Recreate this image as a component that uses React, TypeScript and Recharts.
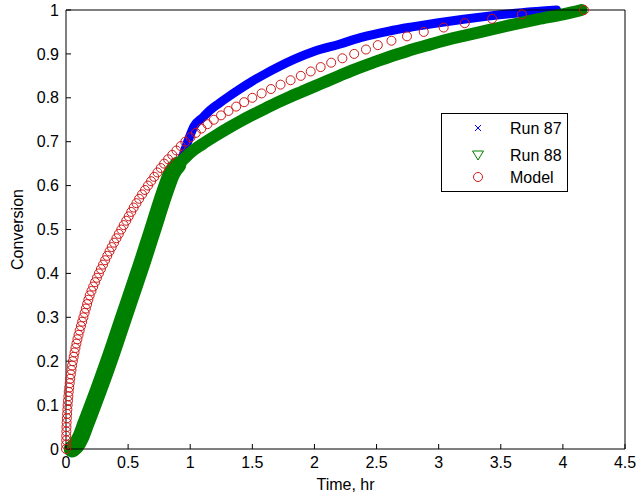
import React from 'react';
import { ComposedChart, Line, XAxis, YAxis, Legend } from 'recharts';

// Run 87 (blue x markers)
const run87Time = [0.88, 0.93, 0.98, 1.03, 1.1, 1.16, 1.23, 1.3, 1.4, 1.5, 1.6, 1.7, 1.84, 2.0, 2.2, 2.37, 2.6, 2.8, 3.0, 3.2, 3.4, 3.67, 3.95];
const run87Conv = [0.64, 0.66, 0.70, 0.735, 0.755, 0.772, 0.787, 0.801, 0.82, 0.838, 0.854, 0.869, 0.888, 0.906, 0.922, 0.937, 0.952, 0.962, 0.971, 0.979, 0.986, 0.994, 1.0];

// Run 88 (green triangles)
const run88Time = [0.05, 0.08, 0.12, 0.16, 0.21, 0.26, 0.31, 0.36, 0.41, 0.46, 0.51, 0.56, 0.61, 0.66, 0.71, 0.76, 0.81, 0.85, 0.9, 0.95, 1.0, 1.1, 1.2, 1.3, 1.4, 1.5, 1.6, 1.7, 1.8, 1.9, 2.0, 2.1, 2.2, 2.3, 2.4, 2.5, 2.6, 2.7, 2.8, 2.9, 3.0, 3.2, 3.4, 3.6, 3.8, 4.0, 4.15];
const run88Conv = [0.0, 0.008, 0.028, 0.058, 0.095, 0.133, 0.172, 0.212, 0.254, 0.296, 0.338, 0.38, 0.422, 0.466, 0.51, 0.555, 0.597, 0.627, 0.647, 0.661, 0.675, 0.695, 0.713, 0.73, 0.746, 0.761, 0.775, 0.789, 0.802, 0.814, 0.826, 0.838, 0.85, 0.862, 0.873, 0.883, 0.893, 0.902, 0.911, 0.919, 0.927, 0.941, 0.954, 0.967, 0.979, 0.99, 1.0];

// Model (red circles)
const modelTime = [
  0.000, 0.001, 0.002, 0.002, 0.003, 0.004, 0.005, 0.007, 0.009, 0.011,
  0.013, 0.016, 0.019, 0.022, 0.026, 0.030, 0.034, 0.039, 0.044, 0.049,
  0.055, 0.062, 0.069, 0.076, 0.084, 0.092, 0.101, 0.110, 0.120, 0.130,
  0.140, 0.150, 0.160, 0.170, 0.180, 0.191, 0.205, 0.219, 0.234, 0.249,
  0.265, 0.281, 0.298, 0.315, 0.332, 0.350, 0.368, 0.387, 0.406, 0.425,
  0.445, 0.465, 0.485, 0.505, 0.525, 0.545, 0.567, 0.589, 0.612, 0.636,
  0.660, 0.685, 0.710, 0.736, 0.763, 0.790, 0.822, 0.855, 0.889, 0.924,
  0.960, 1.002, 1.045, 1.090, 1.139, 1.190, 1.248, 1.308, 1.370, 1.434,
  1.500, 1.575, 1.650, 1.727, 1.808, 1.890, 1.970, 2.050, 2.135, 2.225,
  2.320, 2.415, 2.510, 2.620, 2.745, 2.880, 3.040, 3.210, 3.430, 3.670,
  4.170,
];
const modelConv = [
  0.00, 0.01, 0.02, 0.03, 0.04, 0.05, 0.06, 0.07, 0.08, 0.09,
  0.10, 0.11, 0.12, 0.13, 0.14, 0.15, 0.16, 0.17, 0.18, 0.19,
  0.20, 0.21, 0.22, 0.23, 0.24, 0.25, 0.26, 0.27, 0.28, 0.29,
  0.30, 0.31, 0.32, 0.33, 0.34, 0.35, 0.36, 0.37, 0.38, 0.39,
  0.40, 0.41, 0.42, 0.43, 0.44, 0.45, 0.46, 0.47, 0.48, 0.49,
  0.50, 0.51, 0.52, 0.53, 0.54, 0.55, 0.56, 0.57, 0.58, 0.59,
  0.60, 0.61, 0.62, 0.63, 0.64, 0.65, 0.66, 0.67, 0.68, 0.69,
  0.70, 0.71, 0.72, 0.73, 0.74, 0.75, 0.76, 0.77, 0.78, 0.79,
  0.80, 0.81, 0.82, 0.83, 0.84, 0.85, 0.86, 0.87, 0.88, 0.89,
  0.90, 0.91, 0.92, 0.93, 0.94, 0.95, 0.96, 0.97, 0.98, 0.99,
  1.00,
];

const xTicks = [0, 0.5, 1, 1.5, 2, 2.5, 3, 3.5, 4, 4.5];
const yTicks = [0, 0.1, 0.2, 0.3, 0.4, 0.5, 0.6, 0.7, 0.8, 0.9, 1];
const seriesNames = ['Run 87', 'Run 88', 'Model'];
const xLabel = 'Time, hr';
const yLabel = 'Conversion';

const BLUE = '#0000ff';
const GREEN = '#008000';
const RED = '#cc1a1a';
const FONT = '"Liberation Sans", Arial, Helvetica, sans-serif';

const zip = (ts: number[], cs: number[]) => ts.map((t, i) => ({ t, c: cs[i] }));
const run87 = zip(run87Time, run87Conv);
const run88 = zip(run88Time, run88Conv);
const run88Steep = run88.filter((p) => p.t <= 0.9);
const run88Flat = run88.filter((p) => p.t >= 0.9);
const model = zip(modelTime, modelConv);

const tickStyle = { fill: '#000', fontSize: 16, fontFamily: FONT };

const renderLegend = () => {
  const rows = [14, 41, 63];
  const mx = 36;
  return (
    <div
      style={{
        width: 127,
        height: 79,
        boxSizing: 'border-box',
        border: '1px solid #000',
        background: '#fff',
      }}
    >
      <svg width={125} height={77} style={{ display: 'block' }}>
        <g stroke={BLUE} strokeWidth={1}>
          <line x1={mx - 3} y1={rows[0] - 3} x2={mx + 3} y2={rows[0] + 3} />
          <line x1={mx - 3} y1={rows[0] + 3} x2={mx + 3} y2={rows[0] - 3} />
        </g>
        <polygon
          points={`${mx - 5.5},${rows[1] - 4} ${mx + 5.5},${rows[1] - 4} ${mx},${rows[1] + 5}`}
          fill="none"
          stroke={GREEN}
          strokeWidth={1}
        />
        <circle cx={mx} cy={rows[2]} r={4.5} fill="none" stroke={RED} strokeWidth={1} />
        {seriesNames.map((n, i) => (
          <text
            key={n}
            x={68}
            y={rows[i]}
            dominantBaseline="central"
            fontSize={16}
            fontFamily={FONT}
            fill="#000"
          >
            {n}
          </text>
        ))}
      </svg>
    </div>
  );
};

export default function App() {
  return (
    <div style={{ position: 'absolute', left: 0, top: 0, width: 637, height: 494, background: '#fff' }}>
      <ComposedChart width={637} height={494} margin={{ top: 9, right: 11, bottom: 0, left: 0 }}>
        <XAxis
          xAxisId="b"
          dataKey="t"
          type="number"
          domain={[0, 4.5]}
          ticks={xTicks}
          interval={0}
          height={45}
          tickSize={-5}
          tickMargin={13}
          tick={tickStyle}
          tickLine={{ stroke: '#000' }}
          axisLine={{ stroke: '#000' }}
          tickFormatter={(v: number) => String(v)}
          label={{ value: xLabel, position: 'center', dy: 13, fill: '#000', fontSize: 16, fontFamily: FONT }}
        />
        <XAxis
          xAxisId="t"
          dataKey="t"
          type="number"
          orientation="top"
          domain={[0, 4.5]}
          ticks={xTicks}
          interval={0}
          height={1}
          tickSize={-5}
          tick={false}
          tickLine={{ stroke: '#000' }}
          axisLine={{ stroke: '#000' }}
        />
        <YAxis
          yAxisId="l"
          type="number"
          domain={[0, 1]}
          ticks={yTicks}
          interval={0}
          width={66}
          tickSize={-5}
          tickMargin={12}
          tick={tickStyle}
          tickLine={{ stroke: '#000' }}
          axisLine={{ stroke: '#000' }}
          tickFormatter={(v: number) => String(v)}
          label={{ value: yLabel, angle: -90, position: 'center', dx: -16, fill: '#000', fontSize: 16, fontFamily: FONT }}
        />
        <YAxis
          yAxisId="r"
          type="number"
          orientation="right"
          domain={[0, 1]}
          ticks={yTicks}
          interval={0}
          width={1}
          tickSize={-5}
          tick={false}
          tickLine={{ stroke: '#000' }}
          axisLine={{ stroke: '#000' }}
        />
        <Legend
          layout="vertical"
          align="center"
          verticalAlign="middle"
          content={renderLegend}
          wrapperStyle={{ left: 441, top: 113, width: 127, height: 79 }}
        />
        <Line
          data={model}
          xAxisId="t"
          yAxisId="r"
          dataKey="c"
          stroke="none"
          dot={false}
          activeDot={false}
          legendType="none"
          isAnimationActive={false}
        />
        <Line
          data={run87}
          xAxisId="b"
          yAxisId="l"
          dataKey="c"
          name={seriesNames[0]}
          type="monotone"
          stroke={BLUE}
          strokeWidth={9}
          strokeLinecap="round"
          strokeLinejoin="round"
          dot={false}
          activeDot={false}
          isAnimationActive={false}
        />
        <Line
          data={run88Steep}
          xAxisId="b"
          yAxisId="l"
          dataKey="c"
          name={seriesNames[1]}
          type="monotone"
          stroke={GREEN}
          strokeWidth={17}
          strokeLinecap="round"
          strokeLinejoin="round"
          dot={false}
          activeDot={false}
          isAnimationActive={false}
        />
        <Line
          data={run88Flat}
          xAxisId="b"
          yAxisId="l"
          dataKey="c"
          name={seriesNames[1] + ' '}
          type="monotone"
          stroke={GREEN}
          strokeWidth={12}
          strokeLinecap="round"
          strokeLinejoin="round"
          dot={false}
          activeDot={false}
          isAnimationActive={false}
        />
        <Line
          data={model}
          xAxisId="b"
          yAxisId="l"
          dataKey="c"
          name={seriesNames[2]}
          stroke="none"
          dot={{ r: 4.5, fill: 'none', stroke: RED, strokeWidth: 1 }}
          activeDot={false}
          isAnimationActive={false}
        />
      </ComposedChart>
    </div>
  );
}
